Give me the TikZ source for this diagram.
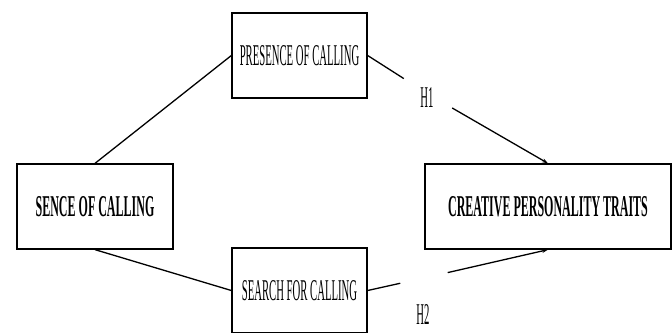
\documentclass[tikz,border=0pt]{standalone}
\usepackage{fontspec}
\setmainfont{Liberation Serif}
\usepackage{graphicx}
\usetikzlibrary{arrows.meta}
% tall, narrow lettering
\newcommand{\tallbf}[1]{\scalebox{1}[2.52]{\fontsize{12}{12}\selectfont\bfseries #1}}
\newcommand{\tallrm}[1]{\scalebox{1}[2.82]{\fontsize{10.7}{10.7}\selectfont #1}}

\begin{document}
\begin{tikzpicture}[
      x=1pt, y=-1pt,
      box/.style={draw, line width=1.3pt, minimum width=#1, minimum height=85pt, inner sep=0pt, align=center},
      hyp/.style={inner sep=0pt},
      gapbox/.style={inner sep=0pt, minimum width=#1},
      link/.style={line width=1.3pt},
      >={Stealth[length=6pt, width=4pt]},
    ]
    \fill[white] (0,0) rectangle (672,332);
    \useasboundingbox (0,0) rectangle (672,332);

    \node[box=156pt] (sence) at (95, 206.5) {\tallbf{SENCE OF CALLING}};
    \node[box=135pt] (pres) at (299.5, 55.5) {\tallrm{PRESENCE OF CALLING}};
    \node[box=135pt] (srch) at (299.5, 290.5) {\tallrm{SEARCH FOR CALLING}};
    \node[box=246pt] (cpt) at (548, 206.5) {\tallbf{CREATIVE PERSONALITY TRAITS}};

    % breaks in the hypothesis paths
    \node[gapbox=48pt, minimum height=32pt] (g1) at (428, 94) {};
    \node[gapbox=47pt, minimum height=16pt] (g2) at (424, 278) {};
    \node[hyp] (h1) at (427, 98) {\tallrm{H1}};
    \node[hyp] (h2) at (423, 315) {\tallrm{H2}};

    \draw[link] (sence.north) -- (pres.west);
    \draw[link] (sence.south) -- (srch.west);
    \draw[link] (pres.east) -- (g1);
    \draw[link, ->] (g1) -- (cpt.north);
    \draw[link] (srch.east) -- (g2);
    \draw[link, ->] (g2) -- (cpt.south);
  \end{tikzpicture}
\end{document}
